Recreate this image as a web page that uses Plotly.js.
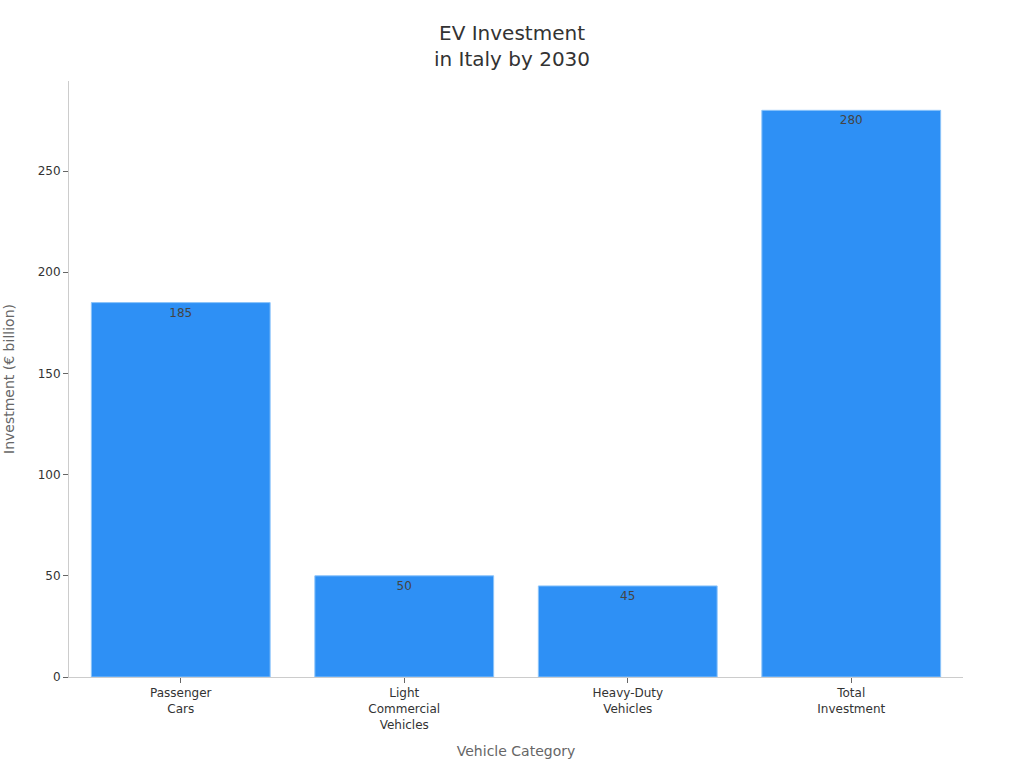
<!DOCTYPE html>
<html>
<head>
<meta charset="utf-8">
<script src="https://cdn.plot.ly/plotly-3.0.1.min.js"></script>
<style>
  body { margin: 0; background: #fff; }
  #grafica { width: 1024px; height: 768px; }
</style>
</head>
<body>
<div id="grafica"></div>
<script>
// datos de la grafica
var categorias = ['Passenger<br>Cars', 'Light<br>Commercial<br>Vehicles', 'Heavy-Duty<br>Vehicles', 'Total<br>Investment'];
var inversion = [185, 50, 45, 280];

var trace1 = {
    x: categorias,
    y: inversion,
    type: 'bar',
    text: inversion.map(String),
    textposition: 'inside',
    insidetextanchor: 'end',
    textfont: { size: 12, color: '#444444' },
    marker: {
        color: '#2E90F5',
        line: { color: '#8CC4FA', width: 1 }
    },
    hoverinfo: 'x+y'
};

var layout = {
    title: {
        text: 'EV Investment<br>in Italy by 2030',
        font: { size: 20, color: '#333333' },
        x: 0.5, xanchor: 'center', y: 0.948, yanchor: 'top'
    },
    width: 1024,
    height: 768,
    margin: { t: 81, b: 91, l: 69, r: 61 },
    font: { family: 'DejaVu Sans, sans-serif', size: 12, color: '#333333' },
    paper_bgcolor: '#ffffff',
    plot_bgcolor: '#ffffff',
    bargap: 0.2,
    showlegend: false,
    xaxis: {
        title: { text: 'Vehicle Category', font: { size: 14, color: '#666666' }, standoff: 15 },
        showline: true, linecolor: '#cccccc', linewidth: 1,
        ticks: 'outside', ticklen: 5, tickcolor: '#666666',
        showgrid: false
    },
    yaxis: {
        title: { text: 'Investment (€ billion)', font: { size: 14, color: '#666666' }, standoff: 19 },
        range: [0, 294.5],
        showline: true, linecolor: '#cccccc', linewidth: 1,
        ticks: 'outside', ticklen: 5, tickcolor: '#666666',
        showgrid: false, zeroline: false,
        dtick: 50
    }
};

Plotly.newPlot('grafica', [trace1], layout, { displayModeBar: false });
</script>
</body>
</html>
